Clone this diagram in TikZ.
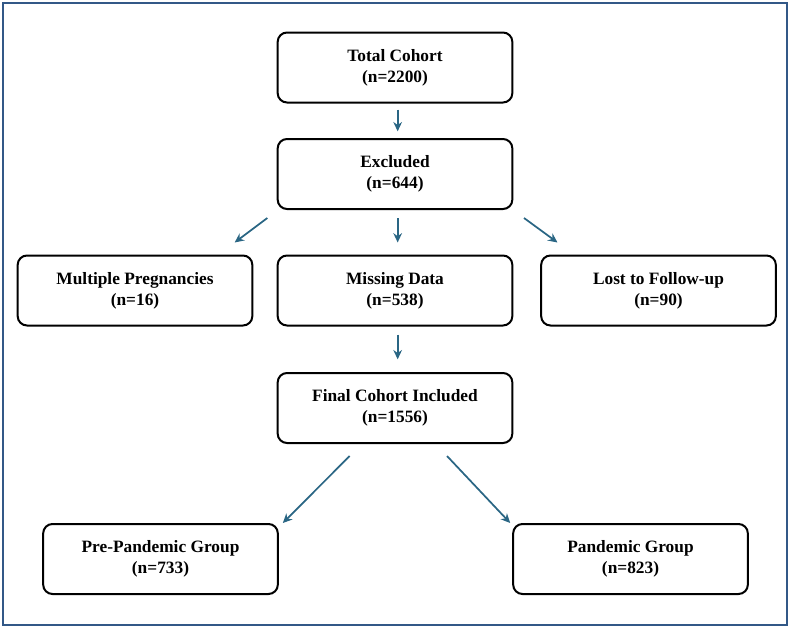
\documentclass[tikz,border=0pt]{standalone}
\usepackage{fontspec}
\setmainfont{Liberation Serif}
\usepackage{xcolor}
\usetikzlibrary{arrows.meta, positioning, calc}
\definecolor{framecol}{RGB}{50,88,135}
\definecolor{arrowcol}{RGB}{42,102,132}

\begin{document}
\begin{tikzpicture}[x=0.75pt, y=-0.75pt,
  stagebox/.style={draw=black, line width=1.5pt, rounded corners=7pt, align=center,
    minimum width=176pt, minimum height=52.5pt, inner sep=0pt,
    font=\fontsize{13}{16}\selectfont\bfseries},
  arr/.style={draw=arrowcol, line width=1.3pt, -{Stealth[length=7pt, width=6.5pt]}}]
\useasboundingbox (0,0) rectangle (791,629);
\draw[framecol, line width=2pt] (3,3) rectangle (787,625);

\node[stagebox] (total) at (395,67.5) {Total Cohort\\(n=2200)};
\node[stagebox] (excl) at (395,174) {Excluded\\(n=644)};
\node[stagebox] (multi) at (135,290.5) {Multiple Pregnancies\\(n=16)};
\node[stagebox] (miss) at (395,290.5) {Missing Data\\(n=538)};
\node[stagebox] (lost) at (658.5,290.5) {Lost to Follow-up\\(n=90)};
\node[stagebox] (final) at (395,408) {Final Cohort Included\\(n=1556)};
\node[stagebox] (pre) at (160.5,559) {Pre-Pandemic Group\\(n=733)};
\node[stagebox] (pand) at (630.5,559) {Pandemic Group\\(n=823)};

\draw[arr, shorten <=4.5pt, shorten >=5pt] ([xshift=2pt]total.south) -- ([xshift=2pt]excl.north);
\draw[arr] ([xshift=-7pt, yshift=-6pt]excl.south west) -- ([xshift=-14pt, yshift=9pt]multi.north east);
\draw[arr, shorten <=6pt, shorten >=9pt] ([xshift=2pt]excl.south) -- ([xshift=2pt]miss.north);
\draw[arr] ([xshift=8pt, yshift=-6pt]excl.south east) -- ([xshift=13pt, yshift=9pt]lost.north west);
\draw[arr, shorten <=6pt, shorten >=9.5pt] ([xshift=2pt]miss.south) -- ([xshift=2pt]final.north);
\draw[arr] ([xshift=-34pt, yshift=-9pt]final.south) -- ([xshift=3pt]pre.north east);
\draw[arr] ([xshift=39pt, yshift=-9pt]final.south) -- ([xshift=-1.5pt]pand.north west);
\end{tikzpicture}
\end{document}
